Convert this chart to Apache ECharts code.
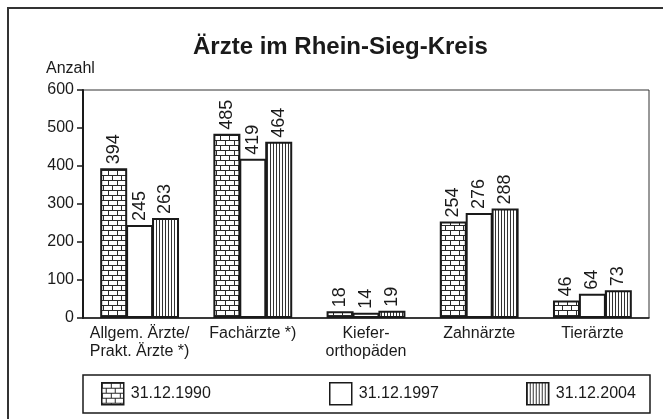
<!DOCTYPE html>
<html>
<head>
<meta charset="utf-8">
<script src="https://cdn.jsdelivr.net/npm/echarts@6/dist/echarts.min.js"></script>
<style>
  html, body { margin: 0; padding: 0; background: #fff; }
  #chart { width: 663px; height: 419px; }
</style>
</head>
<body>
<div id="chart"></div>
<script>
// data
var categories = ['Allgem. Ärzte/\nPrakt. Ärzte *)', 'Fachärzte *)', 'Kiefer-\northopäden', 'Zahnärzte', 'Tierärzte'];
var seriesNames = ['31.12.1990', '31.12.1997', '31.12.2004'];
var values1990 = [394, 485, 18, 254, 46];
var values1997 = [245, 419, 14, 276, 64];
var values2004 = [263, 464, 19, 288, 73];
var yTicks = [0, 100, 200, 300, 400, 500, 600];

var FONT = '"Liberation Sans", Arial, sans-serif';
var INK = '#1a1a1a';

// brick pattern
function brickPattern() {
    var c = document.createElement('canvas');
    c.width = 18; c.height = 10;
    var g = c.getContext('2d');
    g.fillStyle = '#fff';
    g.fillRect(0, 0, 18, 10);
    g.fillStyle = '#2a2a2a';
    g.fillRect(0, 0, 18, 1);
    g.fillRect(0, 5, 18, 1);
    g.fillRect(0, 0, 1, 5);
    g.fillRect(9, 0, 1, 5);
    g.fillRect(4, 5, 1, 5);
    g.fillRect(13, 5, 1, 5);
    return c;
}

// vertical stripes
function stripePattern() {
    var c = document.createElement('canvas');
    c.width = 3; c.height = 4;
    var g = c.getContext('2d');
    g.fillStyle = '#fff';
    g.fillRect(0, 0, 3, 4);
    g.fillStyle = '#333';
    g.fillRect(0, 0, 1, 4);
    return c;
}

var fills = [
    { image: brickPattern(), repeat: 'repeat' },
    '#ffffff',
    { image: stripePattern(), repeat: 'repeat' }
];
var allValues = [values1990, values1997, values2004];

var series = seriesNames.map(function (name, i) {
    return {
        name: name,
        type: 'bar',
        data: allValues[i],
        barWidth: 27,
        barGap: '-4%',
        itemStyle: { color: fills[i], borderColor: INK, borderWidth: 2 },
        label: {
            show: true,
            position: 'top',
            rotate: 90,
            align: 'left',
            verticalAlign: 'middle',
            distance: 4,
            fontSize: 18,
            fontFamily: FONT,
            color: INK
        }
    };
});

var legendLeft = [96, 324, 521];
var legends = seriesNames.map(function (name, i) {
    return {
        data: [name],
        left: legendLeft[i],
        top: 377,
        itemWidth: 22,
        itemHeight: 22,
        icon: 'rect',
        itemStyle: { borderColor: INK, borderWidth: 1.5 },
        textStyle: { fontSize: 16, fontFamily: FONT, color: INK, padding: [0, 0, 0, 2] },
        selectedMode: false
    };
});

var chart = echarts.init(document.getElementById('chart'));
chart.setOption({
    animation: false,
    backgroundColor: '#fff',
    title: {
        text: 'Ärzte im Rhein-Sieg-Kreis',
        left: 188,
        top: 30,
        textStyle: { fontSize: 24, fontWeight: 'bold', fontFamily: FONT, color: INK }
    },
    legend: legends,
    grid: {
        left: 83, right: 14, top: 90, bottom: 101,
        show: true, borderColor: '#333', borderWidth: 1
    },
    xAxis: {
        type: 'category',
        data: categories,
        axisLine: { lineStyle: { color: INK, width: 1.5 } },
        axisTick: { length: 6, lineStyle: { color: INK, width: 1.5 } },
        axisLabel: { interval: 0, margin: 7, fontSize: 16, lineHeight: 18, fontFamily: FONT, color: INK }
    },
    yAxis: {
        type: 'value',
        min: yTicks[0],
        max: yTicks[yTicks.length - 1],
        interval: 100,
        splitLine: { show: false },
        axisLine: { show: true, lineStyle: { color: INK, width: 2 } },
        axisTick: { show: true, length: 6, lineStyle: { color: INK, width: 1.5 } },
        axisLabel: { margin: 9, fontSize: 16, fontFamily: FONT, color: INK }
    },
    graphic: [
        {
            type: 'rect',
            shape: { x: 8, y: 8, width: 700, height: 500 },
            style: { fill: 'none', stroke: '#333', lineWidth: 2 },
            silent: true
        },
        {
            type: 'rect',
            shape: { x: 83, y: 375, width: 567, height: 38 },
            style: { fill: 'none', stroke: INK, lineWidth: 1.5 },
            silent: true,
            z: -1
        },
        {
            type: 'text',
            left: 46,
            top: 61,
            style: { text: 'Anzahl', font: '16px ' + FONT, fill: INK },
            silent: true
        }
    ],
    series: series
});
</script>
</body>
</html>
